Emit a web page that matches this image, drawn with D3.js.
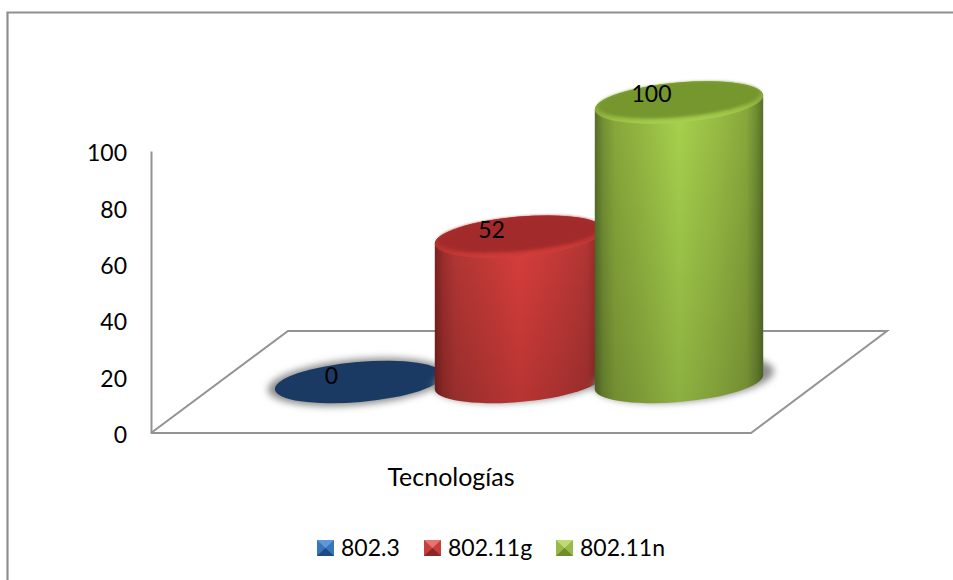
<!DOCTYPE html>
<html><head><meta charset="utf-8">
<style>html,body{margin:0;padding:0;background:#fff}svg{display:block}text{font-family:Lato,"Open Sans",sans-serif;fill:#000}</style>
<script src="https://cdn.jsdelivr.net/npm/d3@7/dist/d3.min.js"></script>
</head><body><svg id="c" width="953" height="580"></svg>
<script>
const seriesNames = ["802.3", "802.11g", "802.11n"];
const seriesValues = [0, 52, 100];
const tickValues = [0, 20, 40, 60, 80, 100];
const categoryLabel = "Tecnologías";
const topColors = ["#1b3a63", "#a32b29", "#76962f"];
const lipColors = ["#1b3a63", "#d23c3a", "#a8d14e"];
const midColors = ["#2a5a96", "#dc3f3c", "#a9d44e"];
const sideColors = ["#16304f", "#b53735", "#8aaa3c"];
const edgeColors = ["#10243c", "#7e2220", "#55702a"];
const legendLight = ["#5d97dc", "#e57370", "#bfdc73"];
const legendDark = ["#1d4a80", "#8e2624", "#6f8d2c"];
const legendMid = ["#3a74ba", "#c5403d", "#98ba48"];

const svg = d3.select("#c");
const defs = svg.append("defs");
defs.append("filter").attr("id","sh").attr("x","-20%").attr("y","-60%").attr("width","140%").attr("height","220%")
  .append("feGaussianBlur").attr("stdDeviation",3.6);
defs.append("filter").attr("id","soft").attr("x","-10%").attr("y","-30%").attr("width","120%").attr("height","160%")
  .append("feGaussianBlur").attr("stdDeviation",1.8);
const vfade = defs.append("linearGradient").attr("id","vfade").attr("x1",0).attr("x2",0).attr("y1",0).attr("y2",1);
vfade.append("stop").attr("offset",0).attr("stop-color","#000").attr("stop-opacity",0);
vfade.append("stop").attr("offset",1).attr("stop-color","#000").attr("stop-opacity",0.17);

seriesNames.forEach((s,i)=>{
  const g = defs.append("linearGradient").attr("id","body"+i);
  [[0,edgeColors[i]],[.05,d3.interpolateRgb(edgeColors[i],sideColors[i])(.6)],[.12,sideColors[i]],[.3,d3.interpolateRgb(sideColors[i],midColors[i])(.45)],[.5,midColors[i]],[.72,d3.interpolateRgb(sideColors[i],midColors[i])(.5)],[.9,sideColors[i]],[.96,d3.interpolateRgb(edgeColors[i],sideColors[i])(.5)],[1,edgeColors[i]]]
    .forEach(([o,c])=>g.append("stop").attr("offset",o).attr("stop-color",c));
  const t = defs.append("linearGradient").attr("id","lip"+i).attr("x1",0).attr("x2",0).attr("y1",0).attr("y2",1);
  t.append("stop").attr("offset",0).attr("stop-color",d3.interpolateRgb(topColors[i],lipColors[i])(.15));
  t.append("stop").attr("offset",.6).attr("stop-color",d3.interpolateRgb(topColors[i],lipColors[i])(.4));
  t.append("stop").attr("offset",1).attr("stop-color",lipColors[i]);
});

// chart frame
const frame = {x:7.5,y:12.5};
svg.append("path").attr("d",`M${frame.x},580V${frame.y}H953`).attr("fill","none").attr("stroke","#8f8f8f").attr("stroke-width",2.2);

// scales
const yAxisScale = d3.scaleLinear().domain([0,100]).range([433,151]);
const yBar = d3.scaleLinear().domain([0,100]).range([382,102.5]);
const xBar = d3.scaleBand().domain(seriesNames).range([279,759]);

// floor
const floorColor = "#939393";
const fl = d3.line();
svg.append("path").attr("d",fl([[151,433],[288,331],[887,331],[751,433],[151,433]])).attr("fill","none").attr("stroke",floorColor).attr("stroke-width",2).attr("stroke-linejoin","miter");

// axis
const axis = d3.axisLeft(yAxisScale).tickValues(tickValues).tickSize(0).tickPadding(24);
const ag = svg.append("g").attr("transform","translate(151,0)").call(axis);
ag.select(".domain").attr("stroke",floorColor).attr("stroke-width",2);
ag.selectAll("text").attr("font-size",23).attr("font-family","Lato").attr("dy",".42em").attr("fill","#000");

// cylinders
const rx = 84.5, ry = 20, rot = -5;
const th = rot*Math.PI/180;
const ext = Math.sqrt(rx*rx*Math.cos(th)**2+ry*ry*Math.sin(th)**2);
const tan = (rx*rx-ry*ry)*Math.sin(th)*Math.cos(th)/ext;
function bodyPath(cx,yt,yb){
  return `M${cx-ext},${yt-tan}L${cx-ext},${yb-tan}A${rx},${ry} ${rot} 0 0 ${cx+ext},${yb+tan}L${cx+ext},${yt+tan}A${rx},${ry} ${rot} 0 0 ${cx-ext},${yt-tan}Z`;
}
const bars = svg.selectAll("g.bar").data(seriesNames.map((n,i)=>({n,i,v:seriesValues[i]}))).join("g").attr("class","bar");
bars.each(function(d){
  const g = d3.select(this), cx = xBar(d.n)+xBar.bandwidth()/2, yt = yBar(d.v), yb = yBar(0), i = d.i;
  const rotAt = (y)=>`rotate(${rot} ${cx} ${y})`;
  g.append("ellipse").attr("cx",cx+(d.v>0?5:-1)).attr("cy",yb-(d.v>0?3:0)).attr("rx",rx+6).attr("ry",ry+3)
    .attr("transform",rotAt(yb)).attr("fill","#8e8e8e").attr("filter","url(#sh)");
  if(d.v>0){
    g.append("path").attr("d",bodyPath(cx,yt,yb)).attr("fill",`url(#body${i})`);
    g.append("path").attr("d",bodyPath(cx,yt,yb)).attr("fill","url(#vfade)");
    g.append("ellipse").attr("cx",cx).attr("cy",yt).attr("rx",rx).attr("ry",ry).attr("transform",rotAt(yt)).attr("fill",`url(#lip${i})`);
    g.append("ellipse").attr("cx",cx).attr("cy",yt-2.5).attr("rx",rx-3).attr("ry",ry-3).attr("transform",rotAt(yt-2.5)).attr("fill",topColors[i]).attr("filter","url(#soft)");
  } else {
    g.append("ellipse").attr("cx",cx).attr("cy",yt).attr("rx",rx).attr("ry",ry).attr("transform",rotAt(yt)).attr("fill",topColors[i]);
  }
});
// data labels
svg.selectAll("text.dl").data(seriesNames).join("text").attr("class","dl")
  .attr("x",n=>xBar(n)+xBar.bandwidth()/2-27.5)
  .attr("y",(n,i)=>yBar(seriesValues[i])-7+(seriesValues[i]===100?6:8.5))
  .attr("text-anchor","middle").attr("font-size",23)
  .text((n,i)=>seriesValues[i]);

// category label
svg.append("text").attr("x",451).attr("y",486).attr("text-anchor","middle").attr("font-size",25).text(categoryLabel);

// legend
const legendX = d3.scaleOrdinal().domain(seriesNames).range([317,424,556]);
const lg = svg.selectAll("g.lg").data(seriesNames).join("g").attr("class","lg").attr("transform",n=>`translate(${legendX(n)},540)`);
lg.each(function(n,i){
  const g=d3.select(this), w=17,h=16,m=8.5,c=8;
  g.append("rect").attr("width",w).attr("height",h).attr("fill",legendMid[i]);
  g.append("path").attr("d",fl([[0,0],[w,0],[m,c]])).attr("fill",legendLight[i]);
  g.append("path").attr("d",fl([[0,h],[w,h],[m,c]])).attr("fill",legendDark[i]);
});
lg.append("text").attr("x",24).attr("y",16).attr("font-size",23).text(n=>n);
</script></body></html>
